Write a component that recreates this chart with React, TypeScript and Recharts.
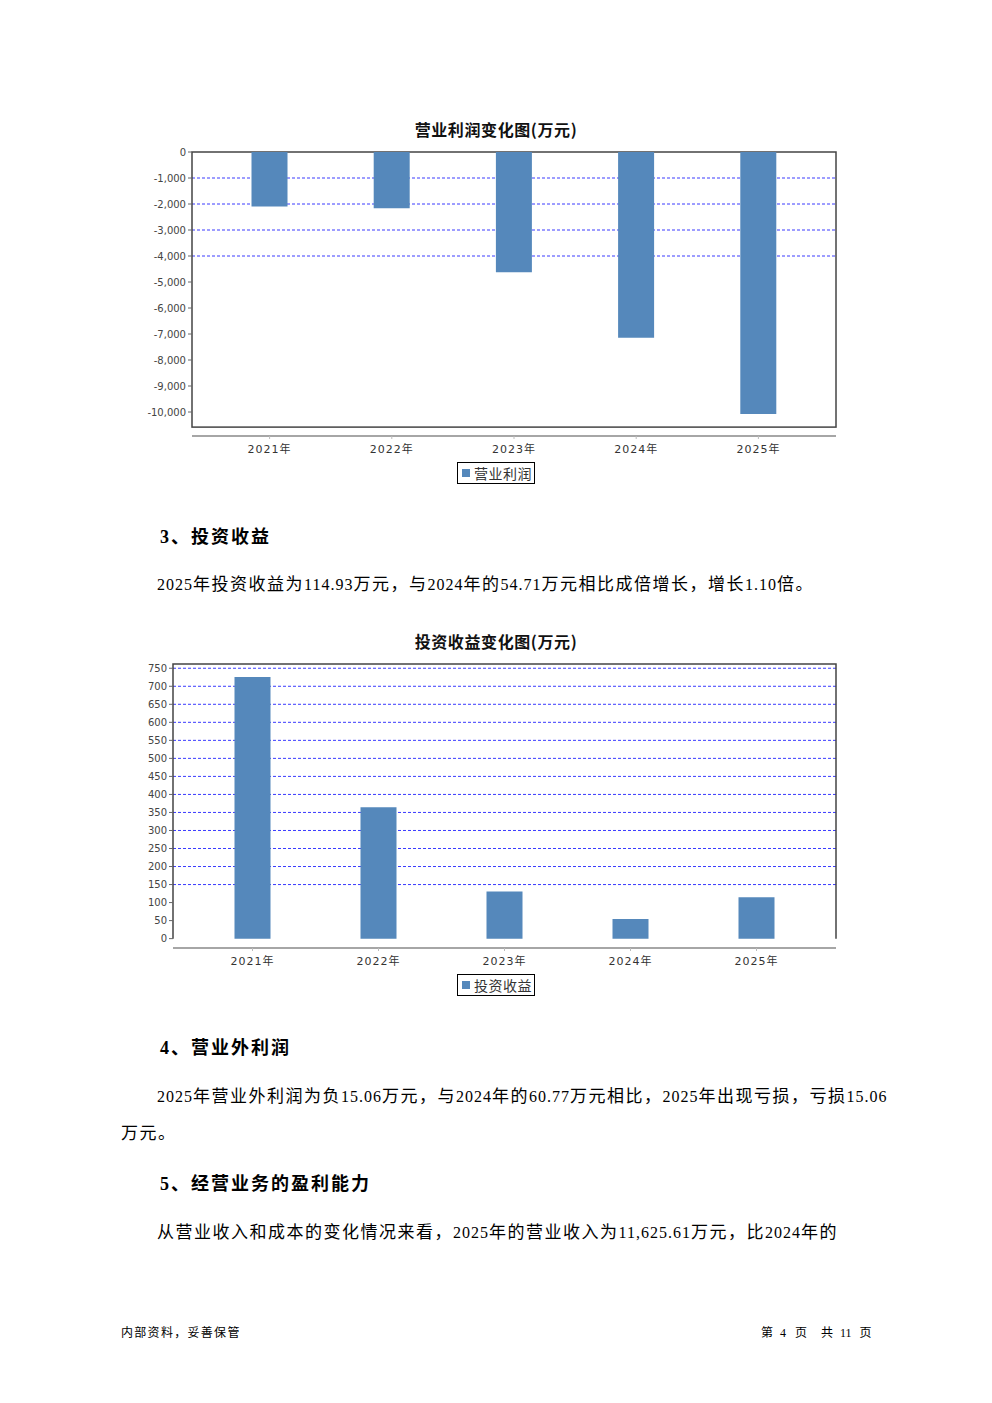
import React from 'react';
import { BarChart, Bar, XAxis, YAxis, ReferenceLine, ReferenceArea } from 'recharts';

const years = ['2021年', '2022年', '2023年', '2024年', '2025年'];
const operatingProfit = [-2098, -2165, -4627, -7141, -10077];
const investmentIncome = [725.5, 364.7, 131.0, 54.71, 114.93];

const profitTicks = [0, -1000, -2000, -3000, -4000, -5000, -6000, -7000, -8000, -9000, -10000];
const profitGrid = [-1000, -2000, -3000, -4000];
const incomeTicks = [0, 50, 100, 150, 200, 250, 300, 350, 400, 450, 500, 550, 600, 650, 700, 750];
const incomeGrid = [150, 200, 250, 300, 350, 400, 450, 500, 550, 600, 650, 700, 750];

const profitName = '营业利润';
const incomeName = '投资收益';
const profitTitle = '营业利润变化图(万元)';
const incomeTitle = '投资收益变化图(万元)';

const profitData = years.map((y, i) => ({ year: y, value: operatingProfit[i] }));
const incomeData = years.map((y, i) => ({ year: y, value: investmentIncome[i] }));

// JFreeChart-style 5% margin beyond the extreme bar
const profitMin = Math.min(...operatingProfit) * 1.05;
const incomeMax = Math.max(...investmentIncome) * 1.05;

const BAR = '#5588bb';
const GRID = '#3a3aff';
const BORDER = '#444';
const CJK = "'Noto Sans CJK SC', 'Noto Sans', sans-serif";
const DOC = "'Liberation Serif', 'Noto Sans CJK SC', serif";

const fmt = (v: number) => v.toLocaleString('en-US');

const FullBorder = (p: any) => (
  <rect x={p.x} y={p.y} width={p.width} height={p.height} fill="none" stroke={BORDER} strokeWidth={1.5} />
);
const OpenBorder = (p: any) => (
  <path
    d={`M${p.x},${p.y + p.height}V${p.y}H${p.x + p.width}V${p.y + p.height}`}
    fill="none"
    stroke={BORDER}
    strokeWidth={1.5}
  />
);

const yTick = { fontSize: 10, fill: '#444', fontFamily: "'DejaVu Sans', sans-serif" };
const xTick = { fontSize: 11, fill: '#333', fontFamily: "'DejaVu Sans', 'Noto Sans CJK SC', sans-serif", letterSpacing: 1 };

function LegendBox({ name, left, top }: { name: string; left: number; top: number }) {
  return (
    <div
      style={{
        position: 'absolute',
        left,
        top,
        width: 78,
        height: 22,
        boxSizing: 'border-box',
        border: '1.5px solid #000',
        display: 'flex',
        alignItems: 'center',
        paddingLeft: 4,
      }}
    >
      <div style={{ width: 8, height: 8, background: BAR, marginRight: 4 }} />
      <span style={{ fontFamily: CJK, fontSize: 14, color: '#333', lineHeight: '16px', letterSpacing: '0.5px' }}>{name}</span>
    </div>
  );
}

// split body text into Latin (digits/punctuation) and CJK runs for separate sizing
function Runs({ text, cjkSize, latinSize, cjkSpacing, latinSpacing }: any) {
  const parts = String(text).match(/[0-9.,]+|[^0-9.,]+/g) || [];
  return (
    <>
      {parts.map((p, i) =>
        /^[0-9.,]+$/.test(p) ? (
          <span key={i} style={{ fontSize: latinSize, letterSpacing: latinSpacing }}>{p}</span>
        ) : (
          <span key={i} style={{ fontSize: cjkSize, letterSpacing: cjkSpacing }}>{p}</span>
        )
      )}
    </>
  );
}

function Para({ top, left, text }: any) {
  return (
    <div
      style={{
        position: 'absolute',
        top,
        left,
        fontFamily: DOC,
        lineHeight: '20px',
        whiteSpace: 'nowrap',
        color: '#000',
      }}
    >
      <Runs text={text} cjkSize={17} latinSize={16} cjkSpacing="1.5px" latinSpacing="1px" />
    </div>
  );
}

function Heading({ top, left, text }: any) {
  return (
    <div
      style={{
        position: 'absolute',
        top,
        left,
        fontFamily: DOC,
        fontSize: 18,
        fontWeight: 'bold',
        lineHeight: '20px',
        letterSpacing: '2px',
        whiteSpace: 'nowrap',
        color: '#000',
      }}
    >
      {text}
    </div>
  );
}

function Title({ top, children }: any) {
  return (
    <div
      style={{
        position: 'absolute',
        top,
        left: 0,
        width: 992,
        textAlign: 'center',
        fontFamily: CJK,
        fontWeight: 'bold',
        fontSize: 16,
        lineHeight: '20px',
        letterSpacing: '0.6px',
        color: '#111',
      }}
    >
      {children}
    </div>
  );
}

const para3 = '2025年投资收益为114.93万元，与2024年的54.71万元相比成倍增长，增长1.10倍。';
const para4a = '2025年营业外利润为负15.06万元，与2024年的60.77万元相比，2025年出现亏损，亏损15.06';
const para4b = '万元。';
const para5 = '从营业收入和成本的变化情况来看，2025年的营业收入为11,625.61万元，比2024年的';

export default function App() {
  return (
    <div style={{ position: 'absolute', left: 0, top: 0, width: 992, height: 1403, background: '#fff' }}>
      <Title top={119}>{profitTitle}</Title>
      <div style={{ position: 'absolute', left: 100, top: 140 }}>
        <BarChart width={760} height={340} data={profitData} margin={{ top: 12, right: 24, left: 40, bottom: 14 }}>
          <XAxis
            xAxisId="cat"
            dataKey="year"
            padding={{ left: 16.5, right: 16.5 }}
            axisLine={{ stroke: '#888', strokeWidth: 1.5 }}
            tickLine={{ stroke: '#bbb' }}
            tickSize={3}
            tickMargin={6}
            height={30}
            tick={xTick}
            interval={0}
          />
          <XAxis xAxisId="full" dataKey="year" hide />
          <YAxis
            type="number"
            domain={[-10923, 0]}
            ticks={profitTicks}
            interval={0}
            width={52}
            axisLine={false}
            tickLine={{ stroke: '#666' }}
            tickSize={4}
            tickMargin={2}
            tick={yTick}
            tickFormatter={fmt}
          />
          {profitGrid.map((v) => (
            <ReferenceLine key={v} xAxisId="full" y={v} stroke={GRID} strokeDasharray="3 2" zIndex={-10} />
          ))}
          <Bar xAxisId="cat" dataKey="value" name={profitName} fill={BAR} barSize={36} isAnimationActive={false} />
          <ReferenceArea xAxisId="full" y1={0} y2={profitMin} shape={FullBorder} ifOverflow="visible" />
        </BarChart>
      </div>
      <LegendBox name={profitName} left={457} top={462} />

      <Heading top={527} left={160} text="3、投资收益" />
      <Para top={575} left={157} text={para3} />

      <Title top={631}>{incomeTitle}</Title>
      <div style={{ position: 'absolute', left: 100, top: 650 }}>
        <BarChart width={760} height={345} data={incomeData} margin={{ top: 14, right: 24, left: 21, bottom: 17 }}>
          <XAxis
            xAxisId="cat"
            dataKey="year"
            padding={{ left: 16.5, right: 16.5 }}
            axisLine={{ stroke: '#888', strokeWidth: 1.5 }}
            tickLine={{ stroke: '#bbb' }}
            tickSize={3}
            tickMargin={6}
            height={30}
            tick={xTick}
            interval={0}
          />
          <XAxis xAxisId="full" dataKey="year" hide />
          <YAxis
            type="number"
            domain={[-26, incomeMax]}
            ticks={incomeTicks}
            interval={0}
            width={52}
            axisLine={false}
            tickLine={{ stroke: '#666' }}
            tickSize={4}
            tickMargin={2}
            tick={yTick}
            tickFormatter={fmt}
          />
          {incomeGrid.map((v) => (
            <ReferenceLine key={v} xAxisId="full" y={v} stroke={GRID} strokeDasharray="3 2" zIndex={-10} />
          ))}
          <Bar xAxisId="cat" dataKey="value" name={incomeName} fill={BAR} barSize={36} isAnimationActive={false} />
          <ReferenceArea xAxisId="full" y1={0} y2={incomeMax} shape={OpenBorder} ifOverflow="visible" />
        </BarChart>
      </div>
      <LegendBox name={incomeName} left={457} top={974} />

      <Heading top={1038} left={160} text="4、营业外利润" />
      <Para top={1087} left={157} text={para4a} />
      <Para top={1124} left={121} text={para4b} />

      <Heading top={1174} left={160} text="5、经营业务的盈利能力" />
      <Para top={1223} left={157} text={para5} />

      <div
        style={{
          position: 'absolute',
          top: 1325,
          left: 121,
          fontFamily: DOC,
          fontSize: 12,
          lineHeight: '16px',
          letterSpacing: '1.3px',
          whiteSpace: 'nowrap',
          color: '#000',
        }}
      >
        内部资料，妥善保管
      </div>
      <div
        style={{
          position: 'absolute',
          top: 1325,
          left: 761,
          fontFamily: DOC,
          fontSize: 12,
          lineHeight: '16px',
          whiteSpace: 'nowrap',
          color: '#000',
        }}
      >
        <span>第</span>
        <span style={{ marginLeft: 7 }}>4</span>
        <span style={{ marginLeft: 9 }}>页</span>
        <span style={{ marginLeft: 14 }}>共</span>
        <span style={{ marginLeft: 7 }}>11</span>
        <span style={{ marginLeft: 8 }}>页</span>
      </div>
    </div>
  );
}
